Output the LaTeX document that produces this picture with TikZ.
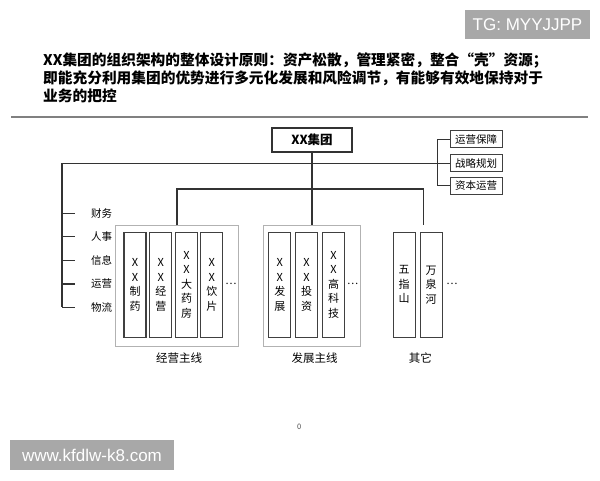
\documentclass[tikz,border=0pt]{standalone}
\usepackage{fontspec}
\setmainfont{Noto Sans CJK SC}
\newfontfamily\wmfont{Liberation Sans}
\usetikzlibrary{positioning}

\begin{document}
\begin{tikzpicture}[x=1pt,y=-1pt,
	line/.style={draw=black!80, line width=1.2pt},
	titleline/.style={anchor=base west, inner sep=0, font=\fontsize{14.7}{18}\selectfont\bfseries},
	head/.style={draw=black!80, line width=1.2pt, minimum width=80pt, minimum height=24pt, inner sep=0, font=\fontsize{12.5}{14}\selectfont\bfseries},
	staff/.style={draw=black!75, line width=1pt, minimum width=52pt, minimum height=17pt, inner sep=0, font=\fontsize{10.5}{12}\selectfont},
	side/.style={inner sep=0, font=\fontsize{10.5}{12}\selectfont},
	unit/.style={draw=black!75, line width=1.1pt, minimum width=22pt, minimum height=105pt, inner sep=0, align=center, font=\fontsize{11}{14.5}\selectfont},
	group/.style={draw=black!30, line width=0.8pt, inner sep=0, minimum height=121pt},
	caption/.style={inner sep=0, font=\fontsize{11.5}{13}\selectfont},
	more/.style={inner sep=0, font=\fontsize{10.5}{12}\selectfont},
	tag/.style={fill=black!34, text=white, inner sep=0, font=\wmfont\fontsize{17}{18}\selectfont}]

		\path[fill=white, use as bounding box] (0,0) rectangle (600,480);

		\node[tag, minimum width=125pt, minimum height=29pt] (tg) at (527.5,24.5) {TG: MYYJJPP};
		\node[tag, minimum width=164pt, minimum height=30pt] (site) at (92,455) {www.kfdlw-k8.com};

		\node[titleline] (title1) at (43,65.5) {XX集团的组织架构的整体设计原则：资产松散，管理紧密，整合“壳”资源；};
		\node[titleline] (title2) at (43,83.5) {即能充分利用集团的优势进行多元化发展和风险调节，有能够有效地保持对于};
		\node[titleline] (title3) at (43,101.5) {业务的把控};
		\draw[draw=black!50, line width=2pt] (11,117) -- (588,117);

		\node[head] (grp) at (312,140) {XX集团};

		\node[staff] (ops1) at (476,139.3) {运营保障};
		\node[staff] (ops2) at (476,163.3) {战略规划};
		\node[staff] (ops3) at (476,185.5) {资本运营};

		\node[side] (side1) at (101.7,213.3) {财务};
		\node[side] (side2) at (101.7,236.7) {人事};
		\node[side] (side3) at (101.7,260.7) {信息};
		\node[side] (side4) at (101.7,284) {运营};
		\node[side] (side5) at (101.7,307.3) {物流};

		\node[group, minimum width=122.6pt] (biz) at (177,286.2) {};
		\node[group, minimum width=97.4pt] (dev) at (312,286.2) {};

		\node[unit] (biz1) at (135,284.8) {X\\X\\制\\药};
		\node[unit] (biz2) at (160.8,284.8) {X\\X\\经\\营};
		\node[unit] (biz3) at (186.5,284.8) {X\\X\\大\\药\\房};
		\node[unit] (biz4) at (211.8,284.8) {X\\X\\饮\\片};
		\node[more] (bizmore) at (231,284) {…};

		\node[unit] (dev1) at (279.8,284.8) {X\\X\\发\\展};
		\node[unit] (dev2) at (306.5,284.8) {X\\X\\投\\资};
		\node[unit] (dev3) at (333.5,284.8) {X\\X\\高\\科\\技};
		\node[more] (devmore) at (352.8,284) {…};

		\node[unit] (oth1) at (404.2,284.8) {五\\指\\山};
		\node[unit] (oth2) at (431.2,284.8) {万\\泉\\河};
		\node[more] (othmore) at (452,284) {…};

		\node[caption] (bizcap) at (179,358.3) {经营主线};
		\node[caption] (devcap) at (314.5,358.3) {发展主线};
		\node[caption] (othcap) at (420.3,358.3) {其它};

		\node[inner sep=0, text=black!70, font=\fontsize{7.5}{8}\selectfont] (pagenum) at (299.3,426.7) {0};

		\coordinate (spine) at (62,163.3);
		\coordinate (fork) at (312,189);
		\coordinate (othtop) at (423.3,225);

		\draw[line] (grp.south) -- (dev.north);
		\draw[line] (spine) -- (ops2.west);
		\draw[line] (ops1.west) -- ++(-12,0) |- (ops3.west);
		\draw[line] (biz.north) |- (fork) -| (othtop);
		\draw[line] (spine) -- (spine |- side5);
		\foreach \i in {1,...,5}
			\draw[line] (spine |- side\i) -- ++(13,0);
	\end{tikzpicture}
\end{document}
